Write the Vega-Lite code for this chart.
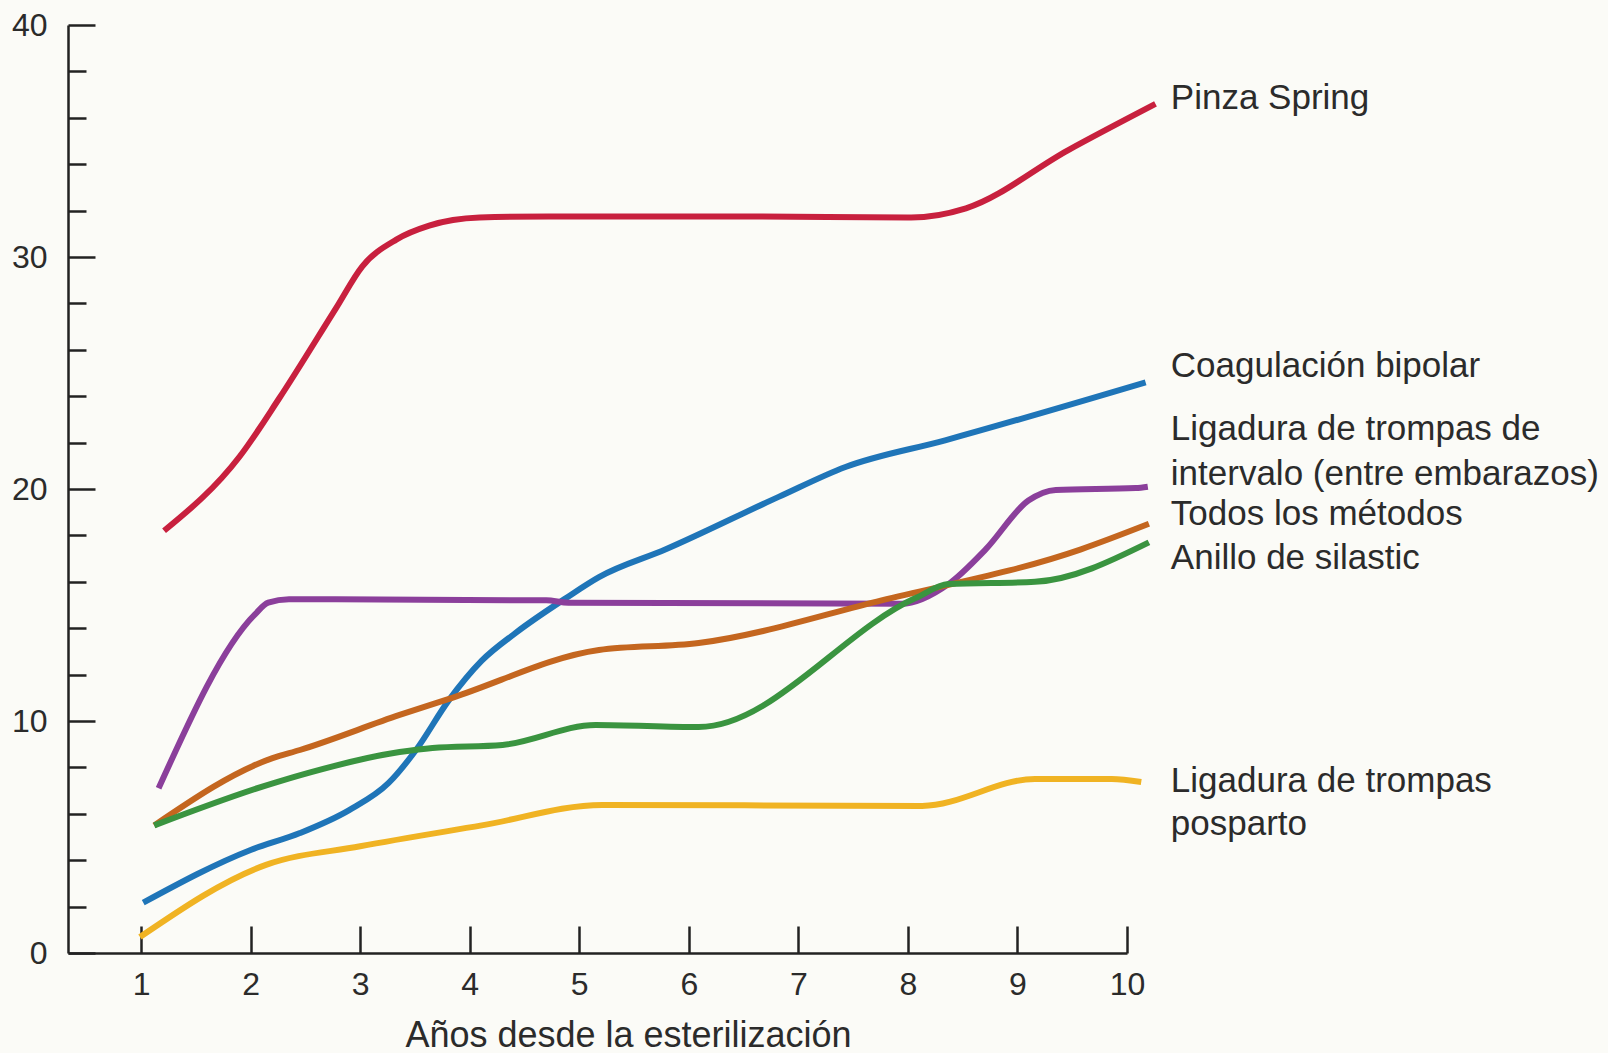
{
  "$schema": "https://vega.github.io/schema/vega-lite/v6.json",
  "width": 1059,
  "height": 928,
  "autosize": {"type": "none"},
  "padding": {"left": 68, "top": 25, "right": 481, "bottom": 100},
  "background": "#fbfbf7",
  "config": {
    "view": {"stroke": null},
    "font": "Liberation Sans",
    "axis": {
      "domainColor": "#222222",
      "domainWidth": 2.5,
      "tickColor": "#222222",
      "tickWidth": 2.5,
      "grid": false,
      "labelFlush": false,
      "labelFont": "Liberation Sans",
      "labelFontSize": 32,
      "labelColor": "#2b2b2b",
      "titleFont": "Liberation Sans",
      "titleFontSize": 36,
      "titleFontWeight": "normal",
      "titleColor": "#2b2b2b"
    }
  },
  "datasets": {
    "series": [
      {"m": "Pinza Spring", "x": 1.21, "y": 18.2},
      {"m": "Pinza Spring", "x": 1.9, "y": 21.4},
      {"m": "Pinza Spring", "x": 2.26, "y": 23.9},
      {"m": "Pinza Spring", "x": 2.78, "y": 27.8},
      {"m": "Pinza Spring", "x": 3.02, "y": 29.6},
      {"m": "Pinza Spring", "x": 3.33, "y": 30.75},
      {"m": "Pinza Spring", "x": 3.63, "y": 31.35},
      {"m": "Pinza Spring", "x": 4.09, "y": 31.7},
      {"m": "Pinza Spring", "x": 4.72, "y": 31.75},
      {"m": "Pinza Spring", "x": 6.5, "y": 31.75},
      {"m": "Pinza Spring", "x": 8.03, "y": 31.7},
      {"m": "Pinza Spring", "x": 8.53, "y": 32.1},
      {"m": "Pinza Spring", "x": 9.46, "y": 34.6},
      {"m": "Pinza Spring", "x": 10.26, "y": 36.6},
      {"m": "Coagulación bipolar", "x": 1.02, "y": 2.17},
      {"m": "Coagulación bipolar", "x": 2.0, "y": 4.44},
      {"m": "Coagulación bipolar", "x": 2.45, "y": 5.17},
      {"m": "Coagulación bipolar", "x": 2.9, "y": 6.16},
      {"m": "Coagulación bipolar", "x": 3.26, "y": 7.33},
      {"m": "Coagulación bipolar", "x": 3.51, "y": 8.75},
      {"m": "Coagulación bipolar", "x": 3.81, "y": 10.9},
      {"m": "Coagulación bipolar", "x": 4.11, "y": 12.6},
      {"m": "Coagulación bipolar", "x": 4.42, "y": 13.8},
      {"m": "Coagulación bipolar", "x": 4.88, "y": 15.3},
      {"m": "Coagulación bipolar", "x": 5.18, "y": 16.2},
      {"m": "Coagulación bipolar", "x": 5.79, "y": 17.4},
      {"m": "Coagulación bipolar", "x": 6.82, "y": 19.66},
      {"m": "Coagulación bipolar", "x": 7.43, "y": 20.95},
      {"m": "Coagulación bipolar", "x": 8.34, "y": 22.1},
      {"m": "Coagulación bipolar", "x": 10.17, "y": 24.6},
      {"m": "Ligadura de trompas de intervalo", "x": 1.16, "y": 7.1},
      {"m": "Ligadura de trompas de intervalo", "x": 2.04, "y": 14.6},
      {"m": "Ligadura de trompas de intervalo", "x": 2.16, "y": 15.1},
      {"m": "Ligadura de trompas de intervalo", "x": 2.35, "y": 15.25},
      {"m": "Ligadura de trompas de intervalo", "x": 4.7, "y": 15.2},
      {"m": "Ligadura de trompas de intervalo", "x": 4.9, "y": 15.1},
      {"m": "Ligadura de trompas de intervalo", "x": 7.94, "y": 15.05},
      {"m": "Ligadura de trompas de intervalo", "x": 8.37, "y": 15.9},
      {"m": "Ligadura de trompas de intervalo", "x": 8.71, "y": 17.4},
      {"m": "Ligadura de trompas de intervalo", "x": 9.1, "y": 19.5},
      {"m": "Ligadura de trompas de intervalo", "x": 9.35, "y": 19.96},
      {"m": "Ligadura de trompas de intervalo", "x": 10.08, "y": 20.04},
      {"m": "Ligadura de trompas de intervalo", "x": 10.19, "y": 20.1},
      {"m": "Todos los métodos", "x": 1.12, "y": 5.5},
      {"m": "Todos los métodos", "x": 2.2, "y": 8.4},
      {"m": "Todos los métodos", "x": 2.45, "y": 8.75},
      {"m": "Todos los métodos", "x": 3.36, "y": 10.26},
      {"m": "Todos los métodos", "x": 3.84, "y": 11.0},
      {"m": "Todos los métodos", "x": 5.18, "y": 13.06},
      {"m": "Todos los métodos", "x": 6.09, "y": 13.36},
      {"m": "Todos los métodos", "x": 7.76, "y": 15.2},
      {"m": "Todos los métodos", "x": 9.58, "y": 17.4},
      {"m": "Todos los métodos", "x": 10.2, "y": 18.5},
      {"m": "Anillo de silastic", "x": 1.12, "y": 5.5},
      {"m": "Anillo de silastic", "x": 2.24, "y": 7.37},
      {"m": "Anillo de silastic", "x": 3.36, "y": 8.66},
      {"m": "Anillo de silastic", "x": 3.66, "y": 8.84},
      {"m": "Anillo de silastic", "x": 4.3, "y": 8.97},
      {"m": "Anillo de silastic", "x": 5.15, "y": 9.83},
      {"m": "Anillo de silastic", "x": 6.09, "y": 9.74},
      {"m": "Anillo de silastic", "x": 8.07, "y": 15.3},
      {"m": "Anillo de silastic", "x": 8.37, "y": 15.9},
      {"m": "Anillo de silastic", "x": 9.16, "y": 16.0},
      {"m": "Anillo de silastic", "x": 10.2, "y": 17.7},
      {"m": "Ligadura de trompas posparto", "x": 0.99, "y": 0.69},
      {"m": "Ligadura de trompas posparto", "x": 2.14, "y": 3.8},
      {"m": "Ligadura de trompas posparto", "x": 3.0, "y": 4.6},
      {"m": "Ligadura de trompas posparto", "x": 4.11, "y": 5.5},
      {"m": "Ligadura de trompas posparto", "x": 5.21, "y": 6.38},
      {"m": "Ligadura de trompas posparto", "x": 8.13, "y": 6.34},
      {"m": "Ligadura de trompas posparto", "x": 9.16, "y": 7.5},
      {"m": "Ligadura de trompas posparto", "x": 9.86, "y": 7.5},
      {"m": "Ligadura de trompas posparto", "x": 10.13, "y": 7.37}
    ],
    "labels": [
      {"t": "Pinza Spring", "x": 10.4, "y": 36.86},
      {"t": "Coagulación bipolar", "x": 10.4, "y": 25.3},
      {"t": "Ligadura de trompas de", "x": 10.4, "y": 22.57},
      {"t": "intervalo (entre embarazos)", "x": 10.4, "y": 20.66},
      {"t": "Todos los métodos", "x": 10.4, "y": 18.94},
      {"t": "Anillo de silastic", "x": 10.4, "y": 17.03},
      {"t": "Ligadura de trompas", "x": 10.4, "y": 7.43},
      {"t": "posparto", "x": 10.4, "y": 5.58}
    ]
  },
  "layer": [
    {
      "data": {"name": "series"},
      "mark": {"type": "line", "strokeWidth": 6, "interpolate": "monotone", "clip": false},
      "encoding": {
        "x": {
          "field": "x", "type": "quantitative",
          "scale": {"domain": [0.333, 10], "nice": false, "zero": false},
          "axis": {
            "values": [1, 2, 3, 4, 5, 6, 7, 8, 9, 10],
            "format": "d",
            "tickSize": -27,
            "labelPadding": 43,
            "title": "Años desde la esterilización",
            "titleX": 560,
            "titleY": 93,
            "titleBaseline": "alphabetic",
            "titleAnchor": "middle"
          }
        },
        "y": {
          "field": "y", "type": "quantitative",
          "scale": {"domain": [0, 40], "nice": false},
          "axis": {
            "values": [0, 2, 4, 6, 8, 10, 12, 14, 16, 18, 20, 22, 24, 26, 28, 30, 32, 34, 36, 38, 40],
            "labelExpr": "datum.value % 10 === 0 ? datum.label : ''",
            "tickSize": {"condition": {"test": "datum.value % 10 === 0", "value": -27}, "value": -18},
            "labelPadding": 48,
            "title": null
          }
        },
        "color": {
          "field": "m", "type": "nominal", "legend": null,
          "scale": {
            "domain": ["Ligadura de trompas posparto", "Ligadura de trompas de intervalo", "Todos los métodos", "Anillo de silastic", "Coagulación bipolar", "Pinza Spring"],
            "range": ["#f0b323", "#8b3f9b", "#c4661f", "#3a9440", "#1f75b8", "#c8203e"]
          }
        }
      }
    },
    {
      "data": {"name": "labels"},
      "mark": {"type": "text", "align": "left", "baseline": "middle", "fontSize": 35, "color": "#2b2b2b", "font": "Liberation Sans", "clip": false},
      "encoding": {
        "x": {"field": "x", "type": "quantitative"},
        "y": {"field": "y", "type": "quantitative"},
        "text": {"field": "t"}
      }
    }
  ]
}
